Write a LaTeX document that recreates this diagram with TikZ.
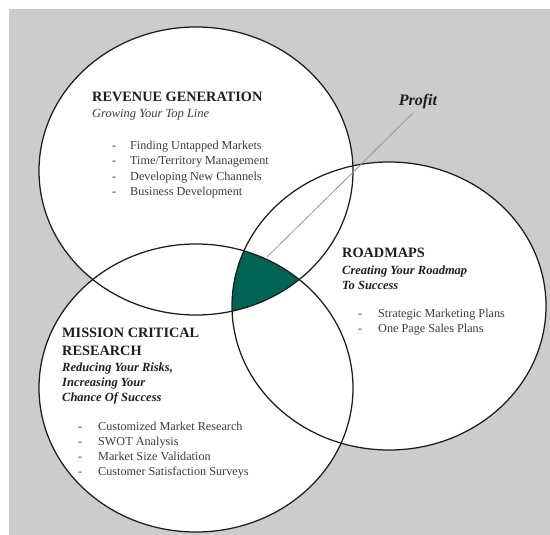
\documentclass[tikz,border=0pt]{standalone}
\usepackage{fontspec}
\setmainfont{Liberation Serif}
\definecolor{bggray}{RGB}{204,204,204}
\definecolor{ringline}{RGB}{28,28,28}
\definecolor{venngreen}{RGB}{0,100,82}
\definecolor{inktext}{RGB}{30,30,30}
\definecolor{softtext}{RGB}{60,60,60}
\definecolor{profitline}{RGB}{150,150,150}
\begin{document}
\begin{tikzpicture}[x=1pt,y=-1pt,
  ringtop/.style={insert path={(196,171) ellipse [x radius=157, y radius=144]}},
  ringright/.style={insert path={(389,306) ellipse [x radius=157, y radius=144]}},
  ringbottom/.style={insert path={(196,388) ellipse [x radius=157, y radius=144]}},
  ringedge/.style={draw=ringline, line width=1.25pt},
  heading/.style={inner sep=0pt, anchor=base west, text=inktext, font=\fontsize{14.3}{18}\selectfont\bfseries},
  tagline/.style={inner sep=0pt, anchor=base west, text=inktext, font=\fontsize{12.5}{15}\selectfont\bfseries\itshape},
  taglinelight/.style={inner sep=0pt, anchor=base west, text=softtext, font=\fontsize{12.5}{15}\selectfont\itshape},
  itemlist/.style={inner sep=0pt, anchor=base west, text=softtext, font=\fontsize{12.2}{15.3}\selectfont},
]
\useasboundingbox (0,0) rectangle (550,535);
% backdrop
\fill[bggray] (9,9) rectangle (550,535);
% white discs
\fill[white, ringtop];
\fill[white, ringright];
\fill[white, ringbottom];
% common region of the three discs
\begin{scope}
  \clip[ringtop];
  \clip[ringright];
  \fill[venngreen, ringbottom];
\end{scope}
% outlines
\path[ringedge, ringtop];
\path[ringedge, ringright];
\path[ringedge, ringbottom];

% profit pointer
\node[inner sep=0pt, anchor=base, text=inktext, font=\fontsize{16}{18}\selectfont\bfseries\itshape] (profit) at (418,106) {Profit};
\coordinate (profitfoot) at (267,257);
\coordinate (profithead) at (413,113);
\draw[profitline, line width=0.8pt] (profitfoot) -- (profithead);

% revenue generation
\node[heading] (revtitle) at (92,101.5) {REVENUE GENERATION};
\node[taglinelight] (revsub) at (92,118) {Growing Your Top Line};
\node[itemlist] (revitems) at (112,149.5) {\begin{tabular}[t]{@{}p{18pt}@{}l@{}}
- & Finding Untapped Markets\\
- & Time/Territory Management\\
- & Developing New Channels\\
- & Business Development
\end{tabular}};

% roadmaps
\node[heading] (roadtitle) at (342,257.5) {ROADMAPS};
\node[tagline] (roadsub) at (342,274.3) {\begin{tabular}[t]{@{}l@{}}
Creating Your Roadmap\\
To Success
\end{tabular}};
\node[itemlist] (roaditems) at (358,317) {\begin{tabular}[t]{@{}p{20pt}@{}l@{}}
- & Strategic Marketing Plans\\
- & One Page Sales Plans
\end{tabular}};

% mission critical research
\node[heading] (misstitle) at (62,337.6) {\begin{tabular}[t]{@{}l@{}}
MISSION CRITICAL\\
RESEARCH
\end{tabular}};
\node[tagline] (misssub) at (62,371.3) {\begin{tabular}[t]{@{}l@{}}
Reducing Your Risks,\\
Increasing Your\\
Chance Of Success
\end{tabular}};
\node[itemlist] (missitems) at (78,430) {\begin{tabular}[t]{@{}p{20pt}@{}l@{}}
- & Customized Market Research\\
- & SWOT Analysis\\
- & Market Size Validation\\
- & Customer Satisfaction Surveys
\end{tabular}};
\end{tikzpicture}
\end{document}
